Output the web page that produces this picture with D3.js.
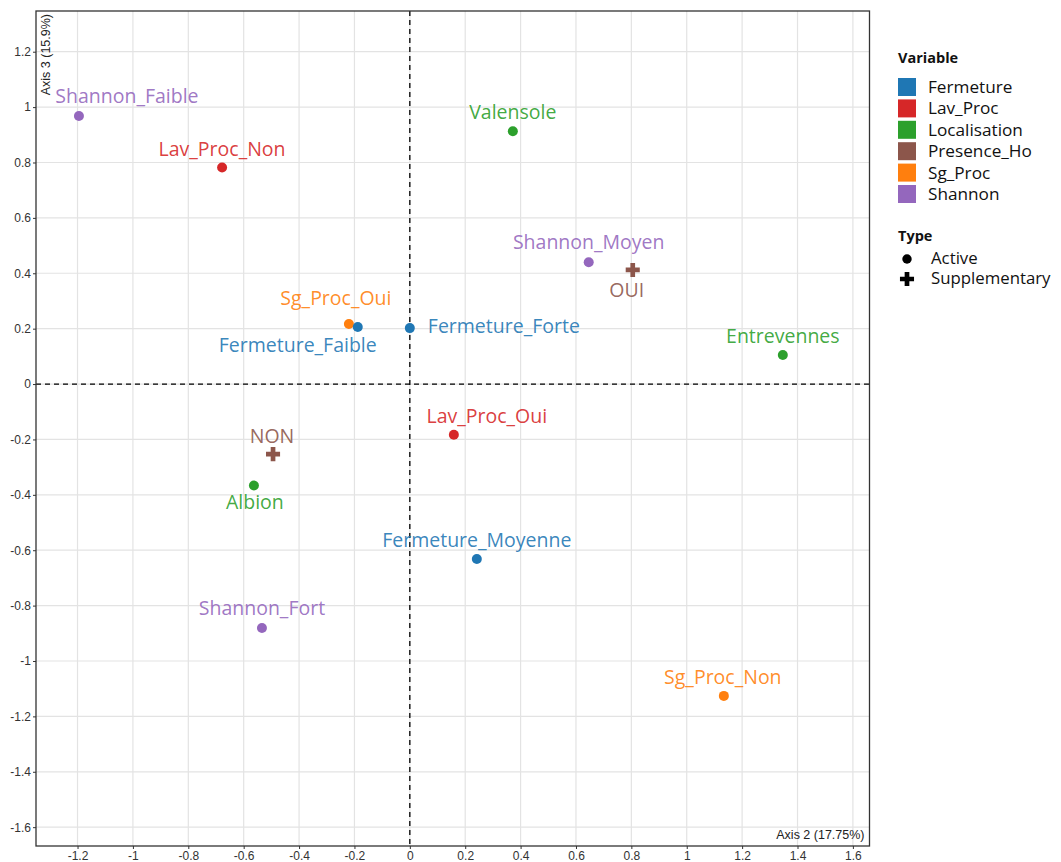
<!DOCTYPE html>
<html>
<head>
<meta charset="utf-8">
<script src="https://cdn.jsdelivr.net/npm/d3@7"></script>
<style>
  body { margin: 0; background: #fff; }
  .tick text { font-family: "Liberation Sans", Arial, sans-serif; font-size: 12px; fill: #333; }
  .lbl { font-family: "Open Sans", "Noto Sans", sans-serif; font-size: 19.5px; }
  .leg { font-family: "Open Sans", "Noto Sans", sans-serif; font-size: 17.2px; fill: #111; }
</style>
</head>
<body>
<svg id="chart" width="1061" height="862"></svg>
<script>
// categories (modalities) and their coordinates on axes 2 and 3
const names = [
  "Shannon_Faible", "Lav_Proc_Non", "Valensole", "Shannon_Moyen", "Sg_Proc_Oui",
  "Fermeture_Faible", "Fermeture_Forte", "Entrevennes", "Lav_Proc_Oui", "Albion",
  "Fermeture_Moyenne", "Shannon_Fort", "Sg_Proc_Non", "OUI", "NON"
];
const variables = [
  "Shannon", "Lav_Proc", "Localisation", "Shannon", "Sg_Proc",
  "Fermeture", "Fermeture", "Localisation", "Lav_Proc", "Localisation",
  "Fermeture", "Shannon", "Sg_Proc", "Presence_Ho", "Presence_Ho"
];
const types = [
  "Active", "Active", "Active", "Active", "Active",
  "Active", "Active", "Active", "Active", "Active",
  "Active", "Active", "Active", "Supplementary", "Supplementary"
];
const axis2 = [-1.195, -0.678, 0.372, 0.646, -0.22, -0.188, 0.0, 1.347, 0.159, -0.563, 0.242, -0.534, 1.134, 0.805, -0.494];
const axis3 = [0.968, 0.782, 0.913, 0.44, 0.217, 0.206, 0.202, 0.105, -0.183, -0.366, -0.632, -0.881, -1.126, 0.412, -0.253];

const variableNames = ["Fermeture", "Lav_Proc", "Localisation", "Presence_Ho", "Sg_Proc", "Shannon"];
const variableColors = ["#1f77b4", "#d62728", "#2ca02c", "#8c564b", "#ff7f0e", "#9467bd"];
const typeNames = ["Active", "Supplementary"];

const xTicks = [-1.2, -1, -0.8, -0.6, -0.4, -0.2, 0, 0.2, 0.4, 0.6, 0.8, 1, 1.2, 1.4, 1.6];
const yTicks = [-1.6, -1.4, -1.2, -1, -0.8, -0.6, -0.4, -0.2, 0, 0.2, 0.4, 0.6, 0.8, 1, 1.2];

// label placement (repelled labels), pixel offsets from the point
const labelOffsets = {
  Shannon_Faible: [48, -13, "middle"],
  Lav_Proc_Non: [0, -11, "middle"],
  Valensole: [0, -12, "middle"],
  Shannon_Moyen: [0, -13, "middle"],
  Sg_Proc_Oui: [-13, -19, "middle"],
  Fermeture_Faible: [-60, 25, "middle"],
  Fermeture_Forte: [18, 5, "start"],
  Entrevennes: [0, -12, "middle"],
  Lav_Proc_Oui: [33, -12, "middle"],
  Albion: [1, 24, "middle"],
  Fermeture_Moyenne: [0, -12, "middle"],
  Shannon_Fort: [0, -13, "middle"],
  Sg_Proc_Non: [-1, -12, "middle"],
  OUI: [-6, 27, "middle"],
  NON: [-1, -11, "middle"]
};

const points = names.map((n, i) => ({
  name: n, variable: variables[i], type: types[i], x: axis2[i], y: axis3[i]
}));

const svg = d3.select("#chart");
const pLeft = 36, pRight = 869.5, pTop = 11, pBottom = 846;

const x = d3.scaleLinear().domain([-1.35, 1.66]).range([pLeft, pRight]);
const y = d3.scaleLinear().domain([-1.668, 1.347]).range([pBottom, pTop]);
const color = d3.scaleOrdinal().domain(variableNames).range(variableColors);

// grid
svg.append("g")
  .selectAll("line")
  .data(xTicks)
  .enter()
  .append("line")
  .attr("x1", d => x(d)).attr("x2", d => x(d))
  .attr("y1", pTop).attr("y2", pBottom)
  .attr("stroke", "#e3e3e3").attr("stroke-width", 1.2);

svg.append("g")
  .selectAll("line")
  .data(yTicks)
  .enter()
  .append("line")
  .attr("y1", d => y(d)).attr("y2", d => y(d))
  .attr("x1", pLeft).attr("x2", pRight)
  .attr("stroke", "#e3e3e3").attr("stroke-width", 1.2);

// zero lines
svg.append("line")
  .attr("x1", x(0)).attr("x2", x(0)).attr("y1", pTop).attr("y2", pBottom)
  .attr("stroke", "#000").attr("stroke-width", 1.3).attr("stroke-dasharray", "5,4");
svg.append("line")
  .attr("y1", y(0)).attr("y2", y(0)).attr("x1", pLeft).attr("x2", pRight)
  .attr("stroke", "#000").attr("stroke-width", 1.3).attr("stroke-dasharray", "5,4");

const fmt = d => String(d);

const xAxis = svg.append("g")
  .attr("transform", `translate(0,${pBottom})`)
  .call(d3.axisBottom(x).tickValues(xTicks).tickFormat(fmt).tickSize(3).tickPadding(2));
const yAxis = svg.append("g")
  .attr("transform", `translate(${pLeft},0)`)
  .call(d3.axisLeft(y).tickValues(yTicks).tickFormat(fmt).tickSize(3).tickPadding(2));
[xAxis, yAxis].forEach(a => {
  a.select(".domain").remove();
  a.selectAll(".tick line").attr("stroke", "#333");
});

// frame
svg.append("rect")
  .attr("x", pLeft).attr("y", pTop)
  .attr("width", pRight - pLeft).attr("height", pBottom - pTop)
  .attr("fill", "none").attr("stroke", "#333").attr("stroke-width", 1.3);

// axis titles (inside the panel)
svg.append("text")
  .attr("transform", `translate(${pLeft + 14},${pTop + 3}) rotate(-90)`)
  .attr("text-anchor", "end")
  .style("font-family", "Liberation Sans, Arial, sans-serif")
  .style("font-size", "12.5px").attr("fill", "#222")
  .text("Axis 3 (15.9%)");
svg.append("text")
  .attr("x", pRight - 5).attr("y", pBottom - 7)
  .attr("text-anchor", "end")
  .style("font-family", "Liberation Sans, Arial, sans-serif")
  .style("font-size", "12.5px").attr("fill", "#222")
  .text("Axis 2 (17.75%)");

// points
const plus = d3.symbol().type(d3.symbolCross).size(110);

svg.append("g")
  .selectAll("circle")
  .data(points.filter(d => d.type === "Active"))
  .enter()
  .append("circle")
  .attr("cx", d => x(d.x)).attr("cy", d => y(d.y))
  .attr("r", 5)
  .attr("fill", d => color(d.variable));

svg.append("g")
  .selectAll("path")
  .data(points.filter(d => d.type === "Supplementary"))
  .enter()
  .append("path")
  .attr("d", plus)
  .attr("transform", d => `translate(${x(d.x)},${y(d.y)})`)
  .attr("fill", d => color(d.variable));

// labels
svg.append("g")
  .selectAll("text")
  .data(points)
  .enter()
  .append("text")
  .attr("class", "lbl")
  .attr("x", d => x(d.x) + labelOffsets[d.name][0])
  .attr("y", d => y(d.y) + labelOffsets[d.name][1])
  .attr("text-anchor", d => labelOffsets[d.name][2])
  .attr("fill", d => color(d.variable))
  .attr("fill-opacity", 0.9)
  .text(d => d.name);

// legend
const legend = svg.append("g").attr("transform", "translate(898,0)");
legend.append("text")
  .attr("x", 0).attr("y", 63)
  .style("font-family", "Open Sans, Noto Sans, sans-serif")
  .style("font-size", "14.5px").style("font-weight", "bold").attr("fill", "#111")
  .text("Variable");

const rows = legend.selectAll(".row")
  .data(variableNames)
  .enter()
  .append("g")
  .attr("transform", (d, i) => `translate(0,${78 + i * 21.4})`);
rows.append("rect")
  .attr("width", 18).attr("height", 18)
  .attr("fill", d => color(d));
rows.append("text")
  .attr("class", "leg")
  .attr("x", 30).attr("y", 15)
  .text(d => d);

legend.append("text")
  .attr("x", 0).attr("y", 241)
  .style("font-family", "Open Sans, Noto Sans, sans-serif")
  .style("font-size", "14.5px").style("font-weight", "bold").attr("fill", "#111")
  .text("Type");

const typeRows = legend.selectAll(".trow")
  .data(typeNames)
  .enter()
  .append("g")
  .attr("transform", (d, i) => `translate(9,${259 + i * 20})`);
typeRows.append("path")
  .attr("d", d => d === "Active"
    ? d3.symbol().type(d3.symbolCircle).size(70)()
    : d3.symbol().type(d3.symbolCross).size(110)())
  .attr("fill", "#000");
typeRows.append("text")
  .attr("class", "leg")
  .attr("x", 24).attr("y", 5)
  .style("font-size", "16.8px")
  .text(d => d);
</script>
</body>
</html>
